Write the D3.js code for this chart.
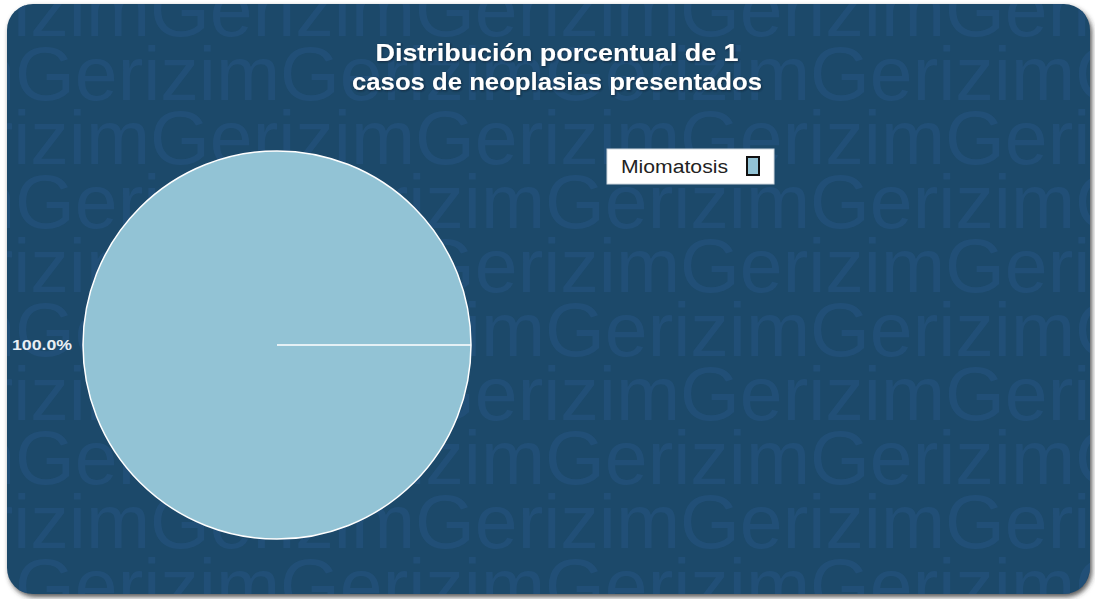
<!DOCTYPE html>
<html>
<head>
<meta charset="utf-8">
<script src="https://cdn.jsdelivr.net/npm/d3@7"></script>
<style>
  body { margin: 0; background: #fff; }
  svg { display: block; }
</style>
</head>
<body>
<svg id="chart"></svg>
<script>
// datos de la grafica
let categories = ["Miomatosis"];
let casos = [1];
let colores = ["#92c3d5"];
let titulo = ["Distribución porcentual de 1", "casos de neoplasias presentados"];
let marca = "Gerizim";

let width = 1095,
  height = 599;

let svg = d3
  .select("#chart")
  .attr("width", width)
  .attr("height", height);

let defs = svg.append("defs");
let sombra = defs
  .append("filter")
  .attr("id", "sombra")
  .attr("x", "-5%")
  .attr("y", "-5%")
  .attr("width", "110%")
  .attr("height", "110%");
sombra
  .append("feDropShadow")
  .attr("dx", 2)
  .attr("dy", 3)
  .attr("stdDeviation", 2.5)
  .attr("flood-color", "#333")
  .attr("flood-opacity", 0.8);

let sombraTexto = defs.append("filter").attr("id", "sombraTexto");
sombraTexto
  .append("feDropShadow")
  .attr("dx", 1)
  .attr("dy", 1)
  .attr("stdDeviation", 1)
  .attr("flood-color", "#0a1d2b")
  .attr("flood-opacity", 0.7);

defs
  .append("clipPath")
  .attr("id", "panelClip")
  .append("rect")
  .attr("x", 7)
  .attr("y", 4)
  .attr("width", 1083)
  .attr("height", 590)
  .attr("rx", 26);

// panel de fondo
svg
  .append("rect")
  .attr("x", 7)
  .attr("y", 4)
  .attr("width", 1083)
  .attr("height", 590)
  .attr("rx", 26)
  .style("fill", "#1e4a6b")
  .attr("filter", "url(#sombra)");

// marca de agua
let agua = svg.append("g").attr("clip-path", "url(#panelClip)");
let periodo = 265;
d3.range(10).forEach(function(i) {
  let x0 = i % 2 === 0 ? 150 : 15;
  agua
    .append("text")
    .attr("x", x0 - periodo * 2)
    .attr("y", 36 + i * 64)
    .attr("textLength", periodo * 7)
    .attr("lengthAdjust", "spacingAndGlyphs")
    .style("font-family", "Liberation Sans, Arial, sans-serif")
    .style("font-size", "76px")
    .style("fill", "#23517a")
    .style("fill-opacity", 0.8)
    .text(d3.range(7).map(() => marca).join(""));
});

// titulo
let anchos = [363, 410];
let t = svg
  .append("text")
  .attr("text-anchor", "middle")
  .attr("filter", "url(#sombraTexto)")
  .style("font-family", "Liberation Sans, Arial, sans-serif")
  .style("font-weight", "bold")
  .style("font-size", "24px")
  .style("fill", "#fff");
titulo.forEach(function(linea, i) {
  t.append("tspan")
    .attr("x", 557)
    .attr("y", 61 + i * 29)
    .attr("textLength", anchos[i])
    .attr("lengthAdjust", "spacingAndGlyphs")
    .text(linea);
});

// pastel
let cx = 277,
  cy = 345,
  radio = 194;
let g = svg.append("g").attr("transform", `translate(${cx},${cy})`);

let total = d3.sum(casos);
let pie = d3
  .pie()
  .sort(null)
  .startAngle(Math.PI / 2)
  .endAngle(Math.PI / 2 + 2 * Math.PI);
let arcos = pie(casos);
let arc = d3.arc().innerRadius(0).outerRadius(radio);
let arcEtiqueta = d3.arc().innerRadius(radio + 11).outerRadius(radio + 11);

g.selectAll("path.slice")
  .data(arcos)
  .join("path")
  .attr("class", "slice")
  .attr("d", arc)
  .style("fill", (d, i) => colores[i])
  .style("stroke", "#fff")
  .style("stroke-width", 1.5);

g.selectAll("line.borde")
  .data(arcos)
  .join("line")
  .attr("class", "borde")
  .attr("x1", 0)
  .attr("y1", 0)
  .attr("x2", d => radio * Math.sin(d.startAngle))
  .attr("y2", d => -radio * Math.cos(d.startAngle))
  .style("stroke", "#fff")
  .style("stroke-width", 1.5);

g.selectAll("text.pct")
  .data(arcos)
  .join("text")
  .attr("class", "pct")
  .attr("x", d => arcEtiqueta.centroid(d)[0])
  .attr("y", d => arcEtiqueta.centroid(d)[1] + 5)
  .attr("text-anchor", d => ((d.startAngle + d.endAngle) / 2 % (2 * Math.PI) > Math.PI ? "end" : "start"))
  .attr("textLength", 60)
  .attr("lengthAdjust", "spacingAndGlyphs")
  .style("font-family", "Liberation Sans, Arial, sans-serif")
  .style("font-weight", "bold")
  .style("font-size", "15px")
  .style("fill", "#e8eef3")
  .text(d => d3.format(".1f")((d.data / total) * 100) + "%");

// leyenda
let ley = svg.append("g").attr("transform", "translate(607,149)");
ley
  .append("rect")
  .attr("width", 167)
  .attr("height", 35)
  .style("fill", "#fff")
  .style("stroke", "#d0d8de")
  .style("stroke-width", 1);
categories.forEach(function(c, i) {
  ley
    .append("text")
    .attr("x", 14)
    .attr("y", 24 + i * 24)
    .attr("textLength", 107)
    .attr("lengthAdjust", "spacingAndGlyphs")
    .style("font-family", "Liberation Sans, Arial, sans-serif")
    .style("font-size", "18px")
    .style("fill", "#222")
    .text(c);
  ley
    .append("rect")
    .attr("x", 140)
    .attr("y", 8 + i * 24)
    .attr("width", 12)
    .attr("height", 18)
    .style("fill", colores[i])
    .style("stroke", "#111")
    .style("stroke-width", 2);
});
</script>
</body>
</html>
